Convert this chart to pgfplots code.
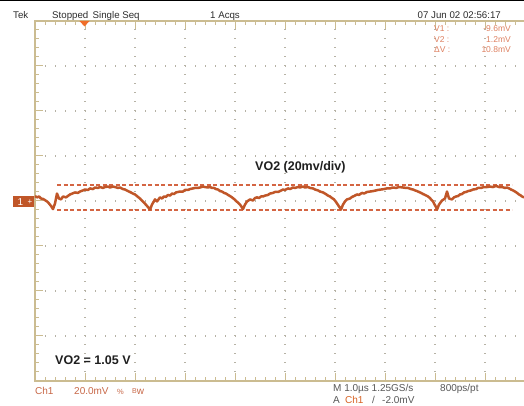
\documentclass[border=0pt]{standalone}
\usepackage{fontspec}
\setmainfont{Liberation Sans}
\usepackage{pgfplots}
\pgfplotsset{compat=1.18}

\definecolor{frame}{RGB}{203,188,145}
\definecolor{griddot}{RGB}{182,178,165}
\definecolor{trace}{RGB}{192,86,40}
\definecolor{cursorline}{RGB}{205,75,35}
\definecolor{readout}{RGB}{222,128,96}
\definecolor{chtext}{RGB}{200,104,72}
\definecolor{status}{RGB}{45,45,45}
\definecolor{trig}{RGB}{240,110,40}

\begin{document}
\begin{tikzpicture}[x=1pt,y=1pt]
\fill[white] (0,0) rectangle (524,406);
\path[use as bounding box] (0,0) rectangle (524,406);
\fill[black] (0,404.8) rectangle (524,406);

\begin{axis}[
  at={(35pt,25pt)}, anchor=south west,
  scale only axis, width=489pt, height=360pt,
  xmin=0, xmax=9.78, ymin=-80, ymax=80,
  axis line style={draw=none},
  xtick={0,...,9}, minor xtick={0,0.2,...,9.8},
  ytick={-80,-60,...,80}, minor ytick={-80,-76,...,80},
  xticklabels={}, yticklabels={},
  ytick pos=left, xtick pos=both,
  tick align=inside,
  major tick length=8pt, minor tick length=4pt,
  tick style={frame, line width=1pt},
  xmajorgrids, ymajorgrids,
  major x grid style={griddot, line width=1.2pt, dash pattern=on 1.2pt off 7.8pt},
  major y grid style={griddot, line width=1.2pt, dash pattern=on 1.2pt off 8.8pt},
  clip=false,
]
% graticule frame (right edge is cut off in the screenshot)
\draw[frame, line width=1.5pt] (rel axis cs:1,1) -- (rel axis cs:0,1)
  -- (rel axis cs:0,0) -- (rel axis cs:1,0);

% cursors
\addplot[cursorline, opacity=0.85, line width=1.6pt, dash pattern=on 4pt off 2.5pt] coordinates {(0.44,7.0) (9.54,7.0)};
\addplot[cursorline, opacity=0.85, line width=1.6pt, dash pattern=on 4pt off 2.5pt] coordinates {(0.44,-3.9) (9.54,-3.9)};

% Ch1 ripple, time in us, voltage in mV
\addplot[draw=trace, line width=2.5pt, line join=round] coordinates {
(0.00,2.2) (0.04,1.6) (0.08,2.0) (0.12,1.1) (0.16,0.9) (0.20,0.4) (0.24,-0.2)
(0.28,-1.1) (0.32,-2.2) (0.36,-3.6)
(0.40,-1.1) (0.44,3.3) (0.48,1.1) (0.52,0.7) (0.56,2.0) (0.62,1.6) (0.70,2.9)
(0.80,3.8) (0.86,3.6) (0.90,4.2) (0.96,4.7) (1.00,5.1) (1.06,4.9) (1.10,5.6)
(1.16,5.3) (1.20,6.0) (1.26,5.8) (1.30,6.2) (1.36,5.8) (1.40,6.2) (1.46,6.4)
(1.50,6.0) (1.56,6.4) (1.60,6.2) (1.66,5.8) (1.70,6.0) (1.76,5.3) (1.80,5.1)
(1.86,4.4) (1.90,4.0) (1.96,3.3) (2.00,2.9) (2.06,1.8) (2.10,1.1) (2.14,0.2)
(2.18,-0.7) (2.24,-2.2) (2.30,-3.8)
(2.34,-1.6) (2.40,0.7) (2.44,-0.2) (2.50,1.6) (2.54,1.1) (2.58,2.0) (2.62,1.8)
(2.66,2.7) (2.70,2.4) (2.74,3.3) (2.78,3.1) (2.82,3.8) (2.90,4.2) (2.96,4.2)
(3.00,4.9) (3.06,4.9) (3.10,5.3) (3.16,5.6) (3.20,5.8) (3.26,5.8) (3.30,6.0)
(3.36,6.4) (3.40,6.2) (3.46,6.0) (3.50,6.2) (3.54,5.8) (3.58,5.8) (3.62,5.3)
(3.66,5.1) (3.70,4.4) (3.74,4.2) (3.78,3.6) (3.82,3.3) (3.86,2.7) (3.90,2.2)
(3.94,1.6) (3.98,0.9) (4.02,0.0) (4.06,-0.7) (4.10,-1.6) (4.12,-2.2) (4.16,-3.6)
(4.20,-1.6) (4.24,-0.2) (4.30,0.7) (4.36,0.2) (4.40,1.3) (4.44,1.6) (4.48,1.3)
(4.52,2.0) (4.56,2.0) (4.60,2.4) (4.66,2.7) (4.70,3.3) (4.76,3.6) (4.80,4.0)
(4.86,4.0) (4.90,4.4) (4.96,5.1) (5.00,4.9) (5.06,5.6) (5.10,5.3) (5.16,6.0)
(5.20,5.8) (5.26,6.2) (5.30,6.0) (5.36,6.4) (5.40,6.0) (5.46,6.2) (5.50,5.8)
(5.56,5.6) (5.60,5.1) (5.66,4.7) (5.70,4.2) (5.76,3.8) (5.80,3.3) (5.86,2.4)
(5.90,2.0) (5.94,1.3) (5.98,0.7) (6.02,-0.4) (6.04,-1.1) (6.08,-2.4) (6.12,-3.8)
(6.16,-1.6) (6.20,-0.2) (6.24,0.7) (6.30,1.1) (6.34,1.8) (6.38,2.2) (6.44,2.9)
(6.48,2.7) (6.54,3.6) (6.58,3.3) (6.64,4.0) (6.70,4.2) (6.76,4.4) (6.82,4.7)
(6.86,4.9) (6.92,5.1) (6.98,5.3) (7.04,5.6) (7.10,5.6) (7.16,6.0) (7.22,5.8)
(7.28,6.2) (7.36,6.0) (7.42,5.8) (7.46,5.8) (7.52,5.3) (7.56,5.1) (7.60,4.7)
(7.64,4.4) (7.68,4.0) (7.72,3.6) (7.76,3.1) (7.80,2.7) (7.86,2.0) (7.90,1.3)
(7.92,0.7) (7.96,-0.2) (7.98,-1.1) (8.02,-2.7) (8.04,-3.8)
(8.08,-1.6) (8.14,0.2) (8.20,1.1) (8.24,4.2) (8.28,1.1) (8.34,0.7) (8.38,1.6)
(8.42,2.0) (8.46,2.2) (8.50,2.9) (8.54,3.1) (8.58,3.8) (8.62,4.0) (8.66,4.4)
(8.72,4.7) (8.76,5.1) (8.82,5.3) (8.86,5.8) (8.92,5.8) (8.98,6.2) (9.04,6.2)
(9.10,6.4) (9.16,6.2) (9.22,6.7) (9.28,6.2) (9.34,6.2) (9.40,5.8) (9.44,6.0)
(9.48,5.6) (9.52,5.1) (9.56,4.7) (9.60,4.2) (9.64,3.6) (9.68,2.9) (9.72,2.4)
(9.74,2.0) (9.78,1.6)
};
\end{axis}

% trigger position marker
\fill[trig] (79.5,385) -- (89.5,385) -- (84.5,379.5) -- cycle;

% ground marker
\fill[trace] (13,198.7) rectangle (34,210);
\node[text=white, inner sep=0, font=\fontsize{10}{10}\selectfont] at (20.5,204.3) {1};
\node[text=white, inner sep=0, font=\fontsize{8}{8}\selectfont] at (30,204.3) {+};

% status line
\begin{scope}[every node/.style={anchor=base west, inner sep=0, text=status, font=\fontsize{9.7}{10}\selectfont}]
\node at (13,387.7) {Tek};
\node at (52,387.7) {Stopped\hspace{0.45em}Single Seq};
\node at (210,387.7) {1 Acqs};
\node[anchor=base east] at (501,387.7) {07 Jun 02 02:56:17};
\end{scope}

% cursor readouts
\begin{scope}[every node/.style={inner sep=0, text=readout, font=\fontsize{8.5}{9}\selectfont}]
\node[anchor=base west] at (434,374.3) {V1 :};
\node[anchor=base east] at (511,374.3) {-9.6mV};
\node[anchor=base west] at (434,363.3) {V2 :};
\node[anchor=base east] at (511,363.3) {1.2mV};
\node[anchor=base west] at (434,353.3) {ΔV :};
\node[anchor=base east] at (511,353.3) {10.8mV};
\end{scope}

% annotations
\node[anchor=base west, inner sep=0, text=black!88, font=\bfseries\fontsize{12.5}{13}\selectfont] at (255,235.3) {VO2 (20mv/div)};
\node[anchor=base west, inner sep=0, text=black!88, font=\bfseries\fontsize{12.5}{13}\selectfont] at (55,41) {VO2 = 1.05 V};

% bottom readouts
\begin{scope}[every node/.style={anchor=base west, inner sep=0, font=\fontsize{10}{10}\selectfont}]
\node[text=chtext] at (35,11) {Ch1};
\node[text=chtext] at (74,11) {20.0mV};
\node[text=chtext, font=\fontsize{7.5}{8}\selectfont] at (117,11) {\%};
\node[text=chtext] at (132,11) {\raisebox{1.5pt}{\fontsize{7}{7}\selectfont B}w};
\node[text=status!80] at (333,14) {M 1.0µs 1.25GS/s};
\node[text=status!80] at (440,14) {800ps/pt};
\node[text=status!80] at (333,2.5) {A};
\node[text=trig!90!black] at (345,2.5) {Ch1};
\node[text=status!80] at (372,2.5) {/};
\node[text=status!80] at (382,2.5) {-2.0mV};
\end{scope}
\end{tikzpicture}
\end{document}
